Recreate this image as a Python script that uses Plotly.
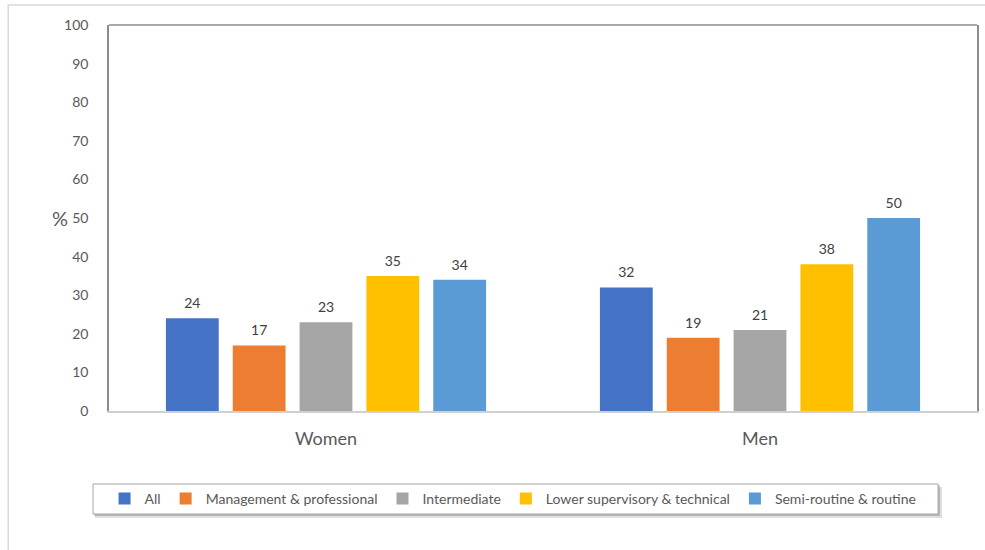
import plotly.graph_objects as go

categories = ["Women", "Men"]
series_names = ["All", "Management & professional", "Intermediate",
                "Lower supervisory & technical", "Semi-routine & routine"]
all_vals = [24, 32]
mgmt_vals = [17, 19]
inter_vals = [23, 21]
lower_vals = [35, 38]
semi_vals = [34, 50]
series_values = [all_vals, mgmt_vals, inter_vals, lower_vals, semi_vals]
colors = ["#4472C4", "#ED7D31", "#A5A5A5", "#FFC000", "#5B9BD5"]
y_ticks = list(range(0, 101, 10))

FONT = "Lato"
W, H = 985, 550
L, R, T, B = 109, 6, 25, 139
PW, PH = W - L - R, H - T - B

def px_x(x):
    return (x - L) / PW

def px_y(y):
    return (H - B - y) / PH

fig = go.Figure()
for i, (name, vals, col) in enumerate(zip(series_names, series_values, colors)):
    fig.add_trace(go.Bar(
        x=categories, y=vals, name=name,
        marker=dict(color=col, line=dict(width=0)),
        offsetgroup=str(i), alignmentgroup="a",
    ))
for i, (name, vals) in enumerate(zip(series_names, series_values)):
    fig.add_trace(go.Scatter(
        x=categories, y=vals, mode="markers+text",
        text=[str(v) for v in vals], textposition="top center",
        marker=dict(size=9, opacity=0),
        textfont=dict(family=FONT, size=14, color="#404040"),
        offsetgroup=str(i), alignmentgroup="a",
        showlegend=False, hoverinfo="skip", cliponaxis=False,
    ))

shapes = [
    dict(type="rect", xref="paper", yref="paper",
         x0=px_x(8), x1=px_x(992), y0=px_y(560), y1=px_y(5),
         line=dict(color="#d9d9d9", width=1.5), layer="below"),
    dict(type="line", xref="paper", yref="paper", x0=0, x1=1, y0=1, y1=1,
         line=dict(color="#8c8c8c", width=1.5)),
    dict(type="rect", xref="paper", yref="paper",
         x0=px_x(95), x1=px_x(944), y0=px_y(518), y1=px_y(487),
         fillcolor="rgba(0,0,0,0.12)", line=dict(width=0), layer="below"),
    dict(type="rect", xref="paper", yref="paper",
         x0=px_x(94), x1=px_x(942), y0=px_y(516), y1=px_y(485),
         fillcolor="rgba(0,0,0,0.18)", line=dict(width=0), layer="below"),
    dict(type="rect", xref="paper", yref="paper",
         x0=px_x(93), x1=px_x(940), y0=px_y(514), y1=px_y(484),
         fillcolor="white", line=dict(color="#a6a6a6", width=1), layer="below"),
]

fig.update_layout(
    width=W, height=H,
    margin=dict(l=L, r=R, t=T, b=B, pad=0),
    paper_bgcolor="white", plot_bgcolor="rgba(0,0,0,0)",
    barmode="group", bargap=0.23, bargroupgap=0.21,
    scattermode="group",
    font=dict(family=FONT, color="#595959"),
    showlegend=True,
    legend=dict(orientation="h", x=px_x(514), y=px_y(499),
                xanchor="center", yanchor="middle",
                bgcolor="rgba(0,0,0,0)", borderwidth=0,
                font=dict(family=FONT, size=14, color="#595959"),
                traceorder="normal"),
    xaxis=dict(showline=True, linecolor="#d0d0d0", linewidth=2,
               ticks="", showgrid=False, zeroline=False,
               tickfont=dict(family=FONT, size=18, color="#595959"),
               ticklabelstandoff=10),
    yaxis=dict(range=[0, 100], tickvals=y_ticks, showgrid=False, zeroline=False,
               showline=True, linecolor="#8c8c8c", linewidth=1.5, mirror=True,
               ticks="", ticklabelstandoff=16,
               tickfont=dict(family=FONT, size=14, color="#595959")),
    shapes=shapes,
    annotations=[dict(text="%", xref="paper", yref="paper",
                      x=px_x(50), y=0.5, showarrow=False,
                      font=dict(family=FONT, size=20, color="#595959"))],
)

fig.write_html("out.html")
